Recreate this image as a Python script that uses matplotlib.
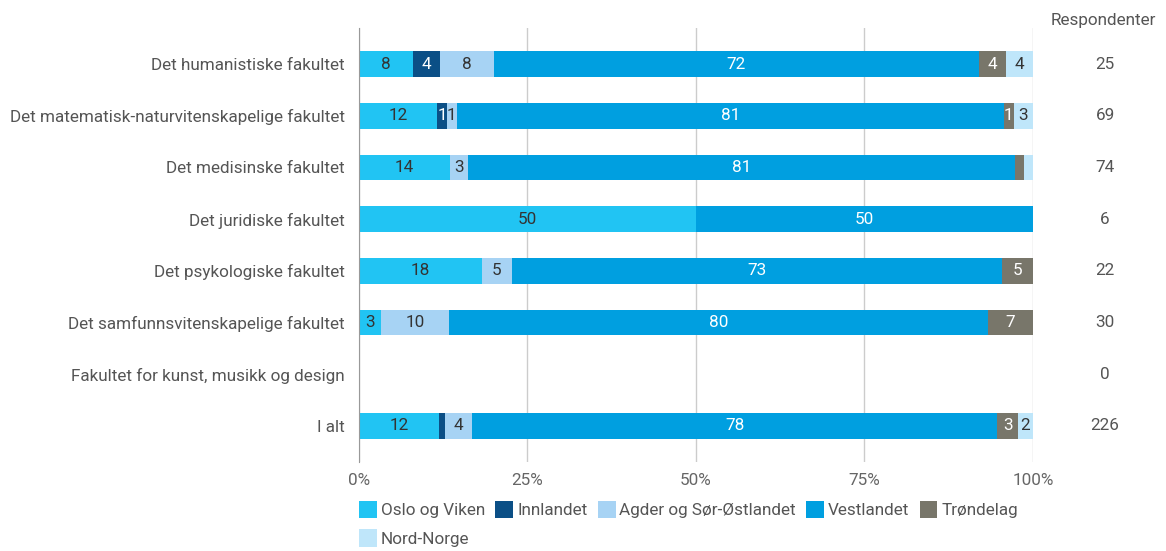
import matplotlib.pyplot as plt
from matplotlib.patches import Patch

plt.rcParams['font.family'] = ['Roboto', 'DejaVu Sans']

faculties = ['Det humanistiske fakultet',
             'Det matematisk-naturvitenskapelige fakultet',
             'Det medisinske fakultet',
             'Det juridiske fakultet',
             'Det psykologiske fakultet',
             'Det samfunnsvitenskapelige fakultet',
             'Fakultet for kunst, musikk og design',
             'I alt']
respondents = [25, 69, 74, 6, 22, 30, 0, 226]

regions = ['Oslo og Viken', 'Innlandet', 'Agder og Sør-Østlandet',
           'Vestlandet', 'Trøndelag', 'Nord-Norge']
colors = ['#21c4f3', '#0b4f86', '#a7d3f4', '#009fe0', '#78766a', '#bfe6fa']
text_colors = ['#333333', 'white', '#333333', 'white', 'white', '#333333']

# share in percent per faculty (same order as faculties)
oslo = [8.0, 11.6, 13.5, 50.0, 18.2, 3.3, 0, 11.9]
innlandet = [4.0, 1.45, 0, 0, 0, 0, 0, 0.9]
agder = [8.0, 1.45, 2.7, 0, 4.55, 10.0, 0, 4.0]
vestlandet = [72.0, 81.2, 81.1, 50.0, 72.7, 80.0, 0, 77.9]
trondelag = [4.0, 1.45, 1.35, 0, 4.55, 6.7, 0, 3.1]
nordnorge = [4.0, 2.9, 1.35, 0, 0, 0, 0, 2.2]
series = [oslo, innlandet, agder, vestlandet, trondelag, nordnorge]

FS = 12.3

fig = plt.figure(figsize=(11.66, 5.51), dpi=100)
ax = fig.add_axes([0.3079, 0.1615, 0.578, 0.7877])

ypos = list(range(len(faculties)))
left = [0.0] * len(faculties)
for vals, col, tc, name in zip(series, colors, text_colors, regions):
    ax.barh(ypos, vals, left=left, height=0.5, color=col, label=name, zorder=2)
    for y, v, l in zip(ypos, vals, left):
        if v >= 1.4:
            ax.text(l + v / 2, y, '%d' % int(v + 0.5), ha='center', va='center',
                    fontsize=FS, color=tc, zorder=3)
    left = [a + b for a, b in zip(left, vals)]

ax.set_xlim(0, 100)
ax.set_ylim(7.7, -0.7)
ax.set_yticks(ypos)
ax.set_yticklabels(faculties, fontsize=FS, color='#555555')
ax.set_xticks([0, 25, 50, 75, 100])
ax.set_xticklabels(['0%', '25%', '50%', '75%', '100%'], fontsize=FS, color='#666666')
ax.tick_params(length=0, pad=10)
ax.tick_params(axis='x', pad=8)
ax.grid(axis='x', color='#cccccc', linewidth=1, zorder=0)
for s in ['top', 'right', 'bottom']:
    ax.spines[s].set_visible(False)
ax.spines['left'].set_color('#999999')
ax.spines['left'].set_zorder(4)

# respondent column
ax.text(1.105, -0.85, 'Respondenter', transform=ax.get_yaxis_transform(),
        ha='center', va='center', fontsize=FS, color='#555555')
for y, n in zip(ypos, respondents):
    ax.text(1.107, y, str(n), transform=ax.get_yaxis_transform(),
            ha='center', va='center', fontsize=FS, color='#555555')

# legend: order so Nord-Norge falls on the second row of the first column
handles = [Patch(facecolor=c) for c in colors]
order = [0, 5, 1, 2, 3, 4]
fig.legend([handles[i] for i in order], [regions[i] for i in order],
           loc='upper left', bbox_to_anchor=(0.3008, 0.107), ncol=5,
           frameon=False, fontsize=FS, handlelength=1.05, handleheight=1.2,
           handletextpad=0.22, columnspacing=0.6, labelspacing=0.65,
           borderpad=0, labelcolor='#555555')

fig.savefig('out.png', dpi=100)
